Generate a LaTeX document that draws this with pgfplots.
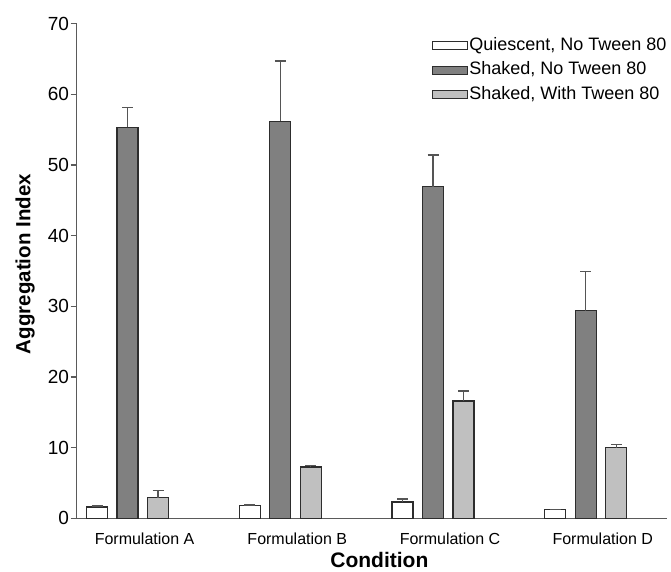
\documentclass[border=0pt]{standalone}
\usepackage{pgfplots}
\pgfplotsset{compat=1.18}
\usepackage{fontspec}
\setmainfont{Liberation Sans}
\definecolor{darkbar}{RGB}{128,128,128}
\definecolor{lightbar}{RGB}{192,192,192}
\definecolor{outl}{RGB}{45,45,45}
\definecolor{axgray}{RGB}{90,90,90}
\definecolor{errgray}{RGB}{85,85,85}
\begin{document}
\begin{tikzpicture}
\begin{axis}[
  scale only axis,
  width=590pt, height=494.7pt,
  xmin=-0.333, xmax=3.53,
  ymin=0, ymax=70,
  ytick={0,10,20,30,40,50,60,70},
  xtick={0,1,2,3},
  xticklabels={Formulation A,Formulation B,Formulation C,Formulation D},
  axis lines*=left,
  axis line style={draw=axgray, line width=1.3pt},
  tick align=outside,
  major tick length=6pt,
  ytick style={draw=axgray, line width=1.3pt},
  xtick style={draw=none},
  minor tick num=0,
  /pgf/number format/assume math mode=true,
  yticklabel style={font=\fontsize{19}{22}\selectfont, inner sep=1.5pt},
  xticklabel style={font=\fontsize{16}{18}\selectfont, anchor=base, xshift=17pt, yshift=-20pt},
  ylabel={\textbf{Aggregation Index}},
  ylabel style={font=\fontsize{20.5}{24}\selectfont, at={(axis description cs:-0.0876,0.514)}, anchor=center, rotate=0},
  xlabel={\textbf{Condition}},
  xlabel style={font=\fontsize{21}{24}\selectfont, at={(axis description cs:0.513,-0.1004)}, anchor=base},
  ybar=9.5pt,
  bar width=21pt,
  legend cell align=left,
  legend image code/.code={\draw[#1, line width=0.9pt] (0pt,-4pt) rectangle (35pt,4pt);},
  legend style={draw=none, fill=none, inner sep=0pt, outer sep=0pt,
    at={(rel axis cs:0.602,0.975)}, anchor=north west,
    row sep=5.5pt,
    nodes={inner sep=1.5pt, text height=12.6pt, text depth=3.5pt, font=\fontsize{18}{20}\selectfont}},
  every axis plot/.append style={draw=outl, line width=1.2pt},
  error bars/error bar style={draw=errgray, line width=1.3pt},
  error bars/error mark options={draw=errgray, line width=1.3pt, mark size=5.5pt, rotate=90},
]
\addplot[fill=white, error bars/.cd, y dir=plus, y explicit] coordinates {
  (0,1.6) +- (0,0.15)
  (1,1.8) +- (0,0.1)
  (2,2.3) +- (0,0.45)
  (3,1.2) +- (0,0.05)
};
\addplot[fill=darkbar, error bars/.cd, y dir=plus, y explicit] coordinates {
  (0,55.3) +- (0,2.8)
  (1,56.2) +- (0,8.5)
  (2,46.9) +- (0,4.5)
  (3,29.4) +- (0,5.5)
};
\addplot[fill=lightbar, error bars/.cd, y dir=plus, y explicit] coordinates {
  (0,2.9) +- (0,1.0)
  (1,7.25) +- (0,0.2)
  (2,16.6) +- (0,1.4)
  (3,10.0) +- (0,0.45)
};
\legend{{Quiescent, No Tween 80},{Shaked, No Tween 80},{Shaked, With Tween 80}}
\end{axis}
\pgfresetboundingbox
\path[use as bounding box] (-76.7pt,-52.7pt) rectangle (594.3pt,518.3pt);
\end{tikzpicture}
\end{document}
